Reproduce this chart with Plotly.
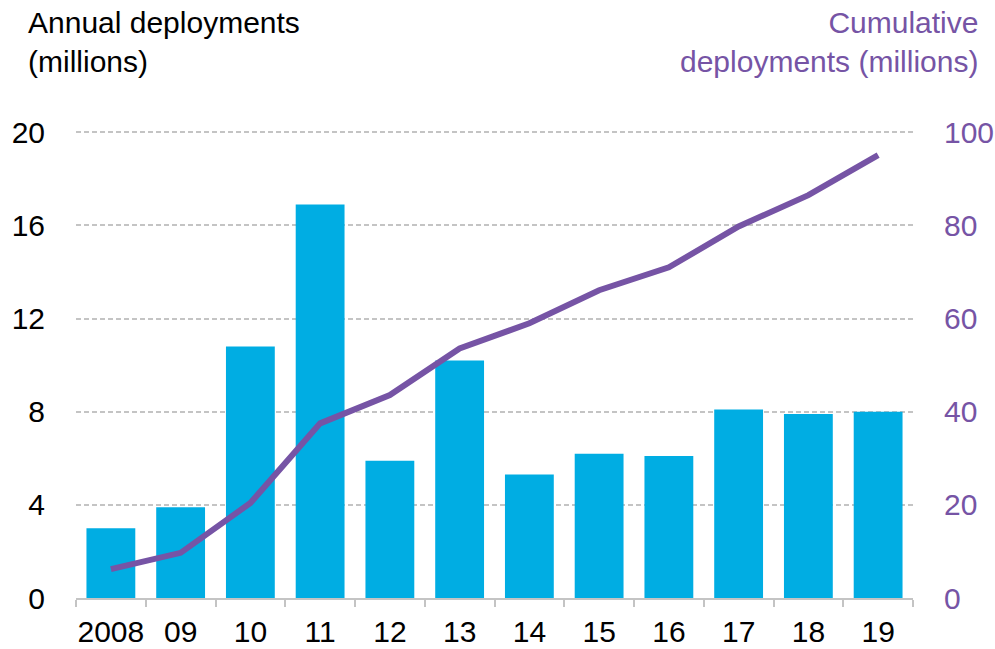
import plotly.graph_objects as go

years = ["2008", "09", "10", "11", "12", "13", "14", "15", "16", "17", "18", "19"]
annual = [3.0, 3.9, 10.8, 16.9, 5.9, 10.2, 5.3, 6.2, 6.1, 8.1, 7.9, 8.0]
cumulative = [6.2, 9.7, 20.4, 37.5, 43.6, 53.6, 59.0, 66.1, 71.0, 79.8, 86.5, 95.1]
left_ticks = [0, 4, 8, 12, 16, 20]
right_ticks = [0, 20, 40, 60, 80, 100]

BLUE = "#00ADE3"
PURPLE = "#7654A5"
GRID = "#C4C4C4"
FONT = "Liberation Sans, Arial, sans-serif"
FS = 30

fig = go.Figure()
fig.add_trace(go.Bar(x=years, y=annual, marker=dict(color=BLUE, line=dict(width=0)),
                     yaxis="y", showlegend=False))
fig.add_trace(go.Scatter(x=years, y=cumulative, mode="lines",
                         line=dict(color=PURPLE, width=6), yaxis="y2", showlegend=False))

fig.update_layout(
    width=995, height=649,
    margin=dict(l=76, r=82, t=130, b=51),
    paper_bgcolor="white", plot_bgcolor="white",
    bargap=0.3,
    font=dict(family=FONT, size=FS, color="black"),
    xaxis=dict(type="category", showgrid=False, showline=True, linecolor=GRID, linewidth=2,
               ticks="outside", tickson="boundaries", ticklen=7, tickcolor=GRID, tickwidth=2,
               tickfont=dict(size=FS, color="black"), automargin=False, tickangle=0,
               ticklabelstandoff=6),
    yaxis=dict(range=[0, 20.1], tickvals=left_ticks, showgrid=True, gridcolor=GRID,
               griddash="5px,3px", gridwidth=1.5, zeroline=False, showline=False, ticks="",
               tickfont=dict(size=FS, color="black"), ticklabelstandoff=30, automargin=False),
    yaxis2=dict(range=[0, 100.5], tickvals=right_ticks, overlaying="y", side="right",
                showgrid=False, zeroline=False, showline=False, ticks="",
                tickfont=dict(size=FS, color=PURPLE), ticklabelstandoff=30, automargin=False),
    annotations=[
        dict(text="Annual deployments<br>(millions)", xref="paper", yref="paper",
             x=-50/837, y=1 + 126/468, xanchor="left", yanchor="top", align="left",
             showarrow=False, font=dict(size=FS, color="black")),
        dict(text="Cumulative<br>deployments (millions)", xref="paper", yref="paper",
             x=1 + 67/837, y=1 + 126/468, xanchor="right", yanchor="top", align="right",
             showarrow=False, font=dict(size=FS, color=PURPLE)),
    ],
)

fig.write_html("out.html", config={"displayModeBar": False},
               post_script="document.body.style.margin='0px';document.body.style.overflow='hidden';")
